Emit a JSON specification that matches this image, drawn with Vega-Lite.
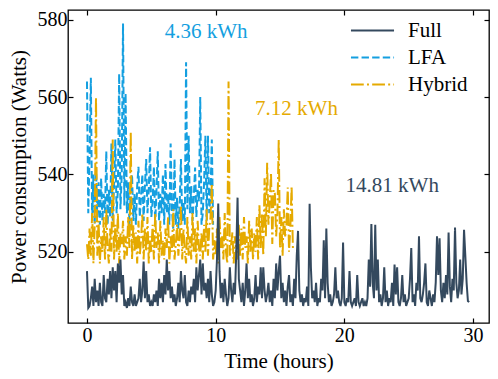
{
"$schema": "https://vega.github.io/schema/vega-lite/v6.json",
"width": 421, "height": 313,
"autosize": "none",
"padding": {"left": 68, "top": 10, "right": 9, "bottom": 56},
"background": "white",
"config": {
  "font": "Times New Roman",
  "view": {"stroke": "black", "strokeWidth": 1.3},
  "axis": {"grid": false, "labelFont": "Times New Roman", "labelFontSize": 20, "labelColor": "black", "titleFont": "Times New Roman", "titleFontSize": 21, "titleFontWeight": "normal", "titleColor": "black", "tickColor": "black", "tickSize": -5, "tickWidth": 1.2, "domain": false, "labelPadding": 6},
  "legend": {"orient": "none", "legendX": 294, "legendY": 10, "title": null, "symbolType": "M-4,0H4", "symbolSize": 116, "symbolStrokeWidth": 2, "labelFont": "Times New Roman", "labelFontSize": 21, "labelColor": "black", "labelOffset": 25, "rowPadding": 5, "padding": 0}
},
"datasets": {
"lfa": [
{"t":0,"w":564},{"t":0.1,"w":530},{"t":0.2,"w":545},{"t":0.3,"w":565},{"t":0.4,"w":528},{"t":0.5,"w":540},{"t":0.6,"w":527},{"t":0.7,"w":542},{"t":0.8,"w":529},{"t":0.9,"w":538},
{"t":1,"w":527},{"t":1.1,"w":539},{"t":1.2,"w":528},{"t":1.3,"w":535},{"t":1.4,"w":530},{"t":1.5,"w":546},{"t":1.6,"w":527},{"t":1.7,"w":536},{"t":1.8,"w":529},{"t":1.9,"w":548},
{"t":2,"w":528},{"t":2.1,"w":537},{"t":2.2,"w":549},{"t":2.3,"w":530},{"t":2.4,"w":536},{"t":2.5,"w":566},{"t":2.6,"w":531},{"t":2.7,"w":540},{"t":2.8,"w":579},{"t":2.9,"w":532},
{"t":3,"w":561},{"t":3.1,"w":530},{"t":3.2,"w":538},{"t":3.3,"w":527},{"t":3.4,"w":536},{"t":3.5,"w":540},{"t":3.6,"w":528},{"t":3.7,"w":535},{"t":3.8,"w":527},{"t":3.9,"w":537},
{"t":4,"w":542},{"t":4.1,"w":529},{"t":4.2,"w":534},{"t":4.3,"w":540},{"t":4.4,"w":528},{"t":4.5,"w":537},{"t":4.6,"w":544},{"t":4.7,"w":530},{"t":4.8,"w":536},{"t":4.9,"w":547},
{"t":5,"w":529},{"t":5.1,"w":533},{"t":5.2,"w":542},{"t":5.3,"w":527},{"t":5.4,"w":536},{"t":5.5,"w":546},{"t":5.6,"w":528},{"t":5.7,"w":535},{"t":5.8,"w":530},{"t":5.9,"w":540},
{"t":6,"w":527},{"t":6.1,"w":542.7},{"t":6.2,"w":530},{"t":6.3,"w":535},{"t":6.4,"w":527},{"t":6.5,"w":548},{"t":6.6,"w":531},{"t":6.7,"w":526},{"t":6.8,"w":544},{"t":6.9,"w":527},
{"t":7,"w":534},{"t":7.1,"w":526},{"t":7.2,"w":532},{"t":7.3,"w":544},{"t":7.4,"w":528},{"t":7.5,"w":533},{"t":7.6,"w":527},{"t":7.7,"w":569},{"t":7.8,"w":531},{"t":7.9,"w":550},
{"t":8,"w":530},{"t":8.1,"w":537},{"t":8.2,"w":528},{"t":8.3,"w":534},{"t":8.4,"w":541.8},{"t":8.5,"w":529},{"t":8.6,"w":536},{"t":8.7,"w":533},{"t":8.8,"w":560},{"t":8.9,"w":527},
{"t":9,"w":530},{"t":9.1,"w":538},{"t":9.2,"w":550},{"t":9.3,"w":528},{"t":9.4,"w":550},{"t":9.5,"w":530},{"t":9.6,"w":535},{"t":9.7,"w":549},{"t":9.8,"w":527}
],
"hybrid": [
{"t":0,"w":522},{"t":0.1,"w":518},{"t":0.2,"w":526},{"t":0.3,"w":519},{"t":0.4,"w":530},{"t":0.5,"w":517},{"t":0.6,"w":527},{"t":0.7,"w":560},{"t":0.8,"w":519},{"t":0.9,"w":528},
{"t":1,"w":517},{"t":1.1,"w":524},{"t":1.2,"w":520},{"t":1.3,"w":529},{"t":1.4,"w":518},{"t":1.5,"w":531},{"t":1.6,"w":521},{"t":1.7,"w":517},{"t":1.8,"w":526},{"t":1.9,"w":520},
{"t":2,"w":549},{"t":2.1,"w":518},{"t":2.2,"w":527},{"t":2.3,"w":520},{"t":2.4,"w":530},{"t":2.5,"w":517},{"t":2.6,"w":525},{"t":2.7,"w":522},{"t":2.8,"w":528},{"t":2.9,"w":518},
{"t":3,"w":524},{"t":3.1,"w":519},{"t":3.2,"w":529},{"t":3.3,"w":521},{"t":3.4,"w":551},{"t":3.5,"w":518},{"t":3.6,"w":527},{"t":3.7,"w":520},{"t":3.8,"w":525},{"t":3.9,"w":517},
{"t":4,"w":528},{"t":4.1,"w":519},{"t":4.2,"w":523},{"t":4.3,"w":530},{"t":4.4,"w":518},{"t":4.5,"w":526},{"t":4.6,"w":520},{"t":4.7,"w":529},{"t":4.8,"w":517},{"t":4.9,"w":524},
{"t":5,"w":520},{"t":5.1,"w":527},{"t":5.2,"w":518},{"t":5.3,"w":530},{"t":5.4,"w":521},{"t":5.5,"w":525},{"t":5.6,"w":517},{"t":5.7,"w":528},{"t":5.8,"w":519},{"t":5.9,"w":523},
{"t":6,"w":518},{"t":6.1,"w":526},{"t":6.2,"w":521},{"t":6.3,"w":529},{"t":6.4,"w":517},{"t":6.5,"w":524},{"t":6.6,"w":520},{"t":6.7,"w":531},{"t":6.8,"w":518},{"t":6.9,"w":522},
{"t":7,"w":527},{"t":7.1,"w":519},{"t":7.2,"w":524},{"t":7.3,"w":532},{"t":7.4,"w":518},{"t":7.5,"w":526},{"t":7.6,"w":520},{"t":7.7,"w":517},{"t":7.8,"w":529},{"t":7.9,"w":519},
{"t":8,"w":524},{"t":8.1,"w":518},{"t":8.2,"w":530},{"t":8.3,"w":520},{"t":8.4,"w":526},{"t":8.5,"w":517},{"t":8.6,"w":528},{"t":8.7,"w":521},{"t":8.8,"w":519},{"t":8.9,"w":525},
{"t":9,"w":518},{"t":9.1,"w":527},{"t":9.2,"w":520},{"t":9.3,"w":531},{"t":9.4,"w":519},{"t":9.5,"w":526},{"t":9.6,"w":529},{"t":9.7,"w":537.6},{"t":9.8,"w":518},{"t":9.9,"w":523},
{"t":10,"w":519},{"t":10.1,"w":526},{"t":10.2,"w":517},{"t":10.3,"w":529},{"t":10.4,"w":521},{"t":10.5,"w":524},{"t":10.6,"w":518},{"t":10.7,"w":530},{"t":10.8,"w":520},{"t":10.9,"w":517},
{"t":11,"w":564},{"t":11.1,"w":519},{"t":11.2,"w":522},{"t":11.3,"w":525},{"t":11.4,"w":517},{"t":11.5,"w":524},{"t":11.6,"w":520},{"t":11.7,"w":518},{"t":11.8,"w":527},{"t":11.9,"w":519},
{"t":12,"w":526},{"t":12.1,"w":518},{"t":12.2,"w":529},{"t":12.3,"w":521},{"t":12.4,"w":524},{"t":12.5,"w":517},{"t":12.6,"w":528},{"t":12.7,"w":520},{"t":12.8,"w":526},{"t":12.9,"w":518},
{"t":13,"w":525},{"t":13.1,"w":520},{"t":13.2,"w":529},{"t":13.3,"w":518},{"t":13.4,"w":532},{"t":13.5,"w":521},{"t":13.6,"w":530},{"t":13.7,"w":519},{"t":13.8,"w":539},{"t":13.9,"w":524},
{"t":14,"w":543},{"t":14.1,"w":527},{"t":14.2,"w":533},{"t":14.3,"w":540.5},{"t":14.4,"w":522},{"t":14.5,"w":536},{"t":14.6,"w":535},{"t":14.7,"w":524},{"t":14.8,"w":530},{"t":14.9,"w":549},
{"t":15,"w":521},{"t":15.1,"w":529},{"t":15.2,"w":519},{"t":15.3,"w":531},{"t":15.4,"w":524},{"t":15.5,"w":527},{"t":15.6,"w":536.6},{"t":15.7,"w":520},{"t":15.8,"w":526},{"t":15.9,"w":537},
{"t":16,"w":521}
],
"full": [
{"t":0,"w":515},{"t":0.1,"w":505.5},{"t":0.2,"w":506},{"t":0.3,"w":508},{"t":0.4,"w":511},{"t":0.5,"w":506},{"t":0.6,"w":513},{"t":0.7,"w":507},{"t":0.8,"w":510},{"t":0.9,"w":506},
{"t":1,"w":512},{"t":1.1,"w":507},{"t":1.2,"w":506},{"t":1.3,"w":514},{"t":1.4,"w":508},{"t":1.5,"w":507},{"t":1.6,"w":513},{"t":1.7,"w":509},{"t":1.8,"w":515},{"t":1.9,"w":508},
{"t":2,"w":516},{"t":2.1,"w":510},{"t":2.2,"w":515},{"t":2.3,"w":507},{"t":2.4,"w":517},{"t":2.5,"w":512},{"t":2.6,"w":518},{"t":2.7,"w":509},{"t":2.8,"w":514},{"t":2.9,"w":506},
{"t":3,"w":507},{"t":3.1,"w":505.5},{"t":3.2,"w":508},{"t":3.3,"w":506},{"t":3.4,"w":511},{"t":3.5,"w":507},{"t":3.6,"w":506},{"t":3.7,"w":509},{"t":3.8,"w":506},{"t":3.9,"w":507},
{"t":4,"w":508},{"t":4.1,"w":513},{"t":4.2,"w":507},{"t":4.3,"w":510},{"t":4.4,"w":517.5},{"t":4.5,"w":508},{"t":4.6,"w":515},{"t":4.7,"w":507},{"t":4.8,"w":509},{"t":4.9,"w":506},
{"t":5,"w":507},{"t":5.1,"w":506},{"t":5.2,"w":509},{"t":5.3,"w":507},{"t":5.4,"w":510},{"t":5.5,"w":506},{"t":5.6,"w":513},{"t":5.7,"w":508},{"t":5.8,"w":512},{"t":5.9,"w":507},
{"t":6,"w":514},{"t":6.1,"w":509},{"t":6.2,"w":518},{"t":6.3,"w":510},{"t":6.4,"w":515},{"t":6.5,"w":508},{"t":6.6,"w":511},{"t":6.7,"w":507},{"t":6.8,"w":509},{"t":6.9,"w":506},
{"t":7,"w":508},{"t":7.1,"w":512},{"t":7.2,"w":507},{"t":7.3,"w":515},{"t":7.4,"w":510},{"t":7.5,"w":508},{"t":7.6,"w":514},{"t":7.7,"w":507},{"t":7.8,"w":506},{"t":7.9,"w":510},
{"t":8,"w":507},{"t":8.1,"w":511},{"t":8.2,"w":509},{"t":8.3,"w":513},{"t":8.4,"w":507},{"t":8.5,"w":516},{"t":8.6,"w":510},{"t":8.7,"w":514},{"t":8.8,"w":518},{"t":8.9,"w":509},
{"t":9,"w":517},{"t":9.1,"w":510},{"t":9.2,"w":512},{"t":9.3,"w":508},{"t":9.4,"w":513},{"t":9.5,"w":507},{"t":9.6,"w":515},{"t":9.7,"w":509},{"t":9.8,"w":506},{"t":9.9,"w":507},
{"t":10,"w":510},{"t":10.1,"w":518},{"t":10.2,"w":532.5},{"t":10.3,"w":515},{"t":10.4,"w":508},{"t":10.5,"w":512},{"t":10.6,"w":507},{"t":10.7,"w":513},{"t":10.8,"w":509},{"t":10.9,"w":506},
{"t":11,"w":508},{"t":11.1,"w":516},{"t":11.2,"w":510},{"t":11.3,"w":507},{"t":11.4,"w":512},{"t":11.5,"w":509},{"t":11.6,"w":520},{"t":11.7,"w":534},{"t":11.8,"w":513},{"t":11.9,"w":510},
{"t":12,"w":507},{"t":12.1,"w":512},{"t":12.2,"w":506},{"t":12.3,"w":510},{"t":12.4,"w":517},{"t":12.5,"w":508},{"t":12.6,"w":513},{"t":12.7,"w":507},{"t":12.8,"w":509},{"t":12.9,"w":506},
{"t":13,"w":508},{"t":13.1,"w":514},{"t":13.2,"w":507},{"t":13.3,"w":511},{"t":13.4,"w":509},{"t":13.5,"w":516},{"t":13.6,"w":508},{"t":13.7,"w":516},{"t":13.8,"w":510},{"t":13.9,"w":507},
{"t":14,"w":509},{"t":14.1,"w":512},{"t":14.2,"w":507},{"t":14.3,"w":510},{"t":14.4,"w":506},{"t":14.5,"w":513},{"t":14.6,"w":508},{"t":14.7,"w":517},{"t":14.8,"w":510},{"t":14.9,"w":515},
{"t":15,"w":519},{"t":15.1,"w":508},{"t":15.2,"w":512},{"t":15.3,"w":507},{"t":15.4,"w":510},{"t":15.5,"w":506},{"t":15.6,"w":511},{"t":15.7,"w":514},{"t":15.8,"w":507},{"t":15.9,"w":509},
{"t":16,"w":506},{"t":16.1,"w":513},{"t":16.2,"w":508},{"t":16.3,"w":519},{"t":16.4,"w":525.4},{"t":16.5,"w":510},{"t":16.6,"w":507},{"t":16.7,"w":509},{"t":16.8,"w":506},{"t":16.9,"w":508},
{"t":17,"w":507},{"t":17.1,"w":511},{"t":17.2,"w":506},{"t":17.3,"w":532.4},{"t":17.4,"w":516},{"t":17.5,"w":508},{"t":17.6,"w":510},{"t":17.7,"w":507},{"t":17.8,"w":512},{"t":17.9,"w":506},
{"t":18,"w":508},{"t":18.1,"w":507},{"t":18.2,"w":513},{"t":18.3,"w":510},{"t":18.4,"w":523},{"t":18.5,"w":508},{"t":18.6,"w":526},{"t":18.7,"w":512},{"t":18.8,"w":507},{"t":18.9,"w":509},
{"t":19,"w":506},{"t":19.1,"w":507},{"t":19.2,"w":509},{"t":19.3,"w":516},{"t":19.4,"w":508},{"t":19.5,"w":510},{"t":19.6,"w":507},{"t":19.7,"w":506},{"t":19.8,"w":508},{"t":19.9,"w":522.4},
{"t":20,"w":507},{"t":20.1,"w":506},{"t":20.2,"w":508},{"t":20.3,"w":507},{"t":20.4,"w":515},{"t":20.5,"w":507},{"t":20.6,"w":506},{"t":20.7,"w":507},{"t":20.8,"w":508},{"t":20.9,"w":506},
{"t":21,"w":514},{"t":21.1,"w":507},{"t":21.2,"w":506},{"t":21.3,"w":507},{"t":21.4,"w":508},{"t":21.5,"w":506},{"t":21.6,"w":507},{"t":21.7,"w":506},{"t":21.8,"w":508},{"t":21.9,"w":518},
{"t":22,"w":511},{"t":22.1,"w":527.2},{"t":22.2,"w":512},{"t":22.3,"w":508},{"t":22.4,"w":527},{"t":22.5,"w":510},{"t":22.6,"w":518},{"t":22.7,"w":507},{"t":22.8,"w":509},{"t":22.9,"w":506},
{"t":23,"w":508},{"t":23.1,"w":516},{"t":23.2,"w":507},{"t":23.3,"w":510},{"t":23.4,"w":506},{"t":23.5,"w":508},{"t":23.6,"w":507},{"t":23.7,"w":512},{"t":23.8,"w":506},{"t":23.9,"w":516.7},
{"t":24,"w":509},{"t":24.1,"w":516},{"t":24.2,"w":507},{"t":24.3,"w":506},{"t":24.4,"w":508},{"t":24.5,"w":514},{"t":24.6,"w":507},{"t":24.7,"w":509},{"t":24.8,"w":506},{"t":24.9,"w":507},
{"t":25,"w":508},{"t":25.1,"w":513},{"t":25.2,"w":521},{"t":25.3,"w":507},{"t":25.4,"w":509},{"t":25.5,"w":506},{"t":25.6,"w":512},{"t":25.7,"w":510},{"t":25.8,"w":524},{"t":25.9,"w":508},
{"t":26,"w":507},{"t":26.1,"w":509},{"t":26.2,"w":512},{"t":26.3,"w":517},{"t":26.4,"w":507},{"t":26.5,"w":506},{"t":26.6,"w":510},{"t":26.7,"w":508},{"t":26.8,"w":506},{"t":26.9,"w":509},
{"t":27,"w":507},{"t":27.1,"w":512},{"t":27.2,"w":524},{"t":27.3,"w":514},{"t":27.4,"w":523.5},{"t":27.5,"w":510},{"t":27.6,"w":507},{"t":27.7,"w":512},{"t":27.8,"w":508},{"t":27.9,"w":514},
{"t":28,"w":509},{"t":28.1,"w":525},{"t":28.2,"w":511},{"t":28.3,"w":507},{"t":28.4,"w":513},{"t":28.5,"w":510},{"t":28.6,"w":526.3},{"t":28.7,"w":512},{"t":28.8,"w":508},{"t":28.9,"w":510},
{"t":29,"w":518},{"t":29.1,"w":509},{"t":29.2,"w":513},{"t":29.3,"w":525.7},{"t":29.4,"w":519},{"t":29.5,"w":512},{"t":29.6,"w":507.3},{"t":29.7,"w":507}
]
},
"layer": [
{
  "data": {"name": "lfa"},
  "mark": {"type": "line", "strokeWidth": 2},
  "encoding": {
    "x": {"field": "t", "type": "quantitative", "scale": {"domain": [-1.476, 31.24], "nice": false, "zero": false}, "axis": null},
    "y": {"field": "w", "type": "quantitative", "scale": {"domain": [501.6, 582.5], "nice": false, "zero": false}, "axis": null},
    "color": {"datum": "LFA", "type": "nominal", "scale": {"domain": ["Full", "LFA", "Hybrid"], "range": ["#34495e", "#149fe0", "#e5aa00"]}},
    "strokeDash": {"datum": "LFA", "type": "nominal", "scale": {"domain": ["Full", "LFA", "Hybrid"], "range": [[1, 0], [7.4, 3.2], [12.8, 3.2, 2, 3.2]]}}
  }
},
{
  "data": {"name": "hybrid"},
  "mark": {"type": "line", "strokeWidth": 2},
  "encoding": {
    "x": {"field": "t", "type": "quantitative", "axis": null},
    "y": {"field": "w", "type": "quantitative", "axis": null},
    "color": {"datum": "Hybrid", "type": "nominal"},
    "strokeDash": {"datum": "Hybrid", "type": "nominal"}
  }
},
{
  "data": {"name": "full"},
  "mark": {"type": "line", "strokeWidth": 2},
  "encoding": {
    "x": {"field": "t", "type": "quantitative", "axis": {"values": [0, 10, 20, 30], "title": "Time (hours)", "titlePadding": 5, "labelPadding": 7}},
    "y": {"field": "w", "type": "quantitative", "axis": {"values": [520, 540, 560, 580], "title": "Power consumption (Watts)", "titlePadding": 8}},
    "color": {"datum": "Full", "type": "nominal"},
    "strokeDash": {"datum": "Full", "type": "nominal"}
  }
},
{
  "data": {"values": [{"t": 9.26, "w": 576.9, "label": "4.36 kWh"}]},
  "mark": {"type": "text", "font": "Times New Roman", "fontSize": 21, "align": "center", "baseline": "middle", "color": "#149fe0"},
  "encoding": {
    "x": {"field": "t", "type": "quantitative", "axis": {"orient": "top", "values": [0, 10, 20, 30], "labels": false, "title": null}},
    "y": {"field": "w", "type": "quantitative", "axis": {"orient": "right", "values": [520, 540, 560, 580], "labels": false, "title": null}},
    "text": {"field": "label"}
  }
},
{
  "data": {"values": [{"t": 16.28, "w": 556.9, "label": "7.12 kWh"}]},
  "mark": {"type": "text", "font": "Times New Roman", "fontSize": 21, "align": "center", "baseline": "middle", "color": "#e5aa00"},
  "encoding": {
    "x": {"field": "t", "type": "quantitative", "axis": null},
    "y": {"field": "w", "type": "quantitative", "axis": null},
    "text": {"field": "label"}
  }
},
{
  "data": {"values": [{"t": 23.72, "w": 536.9, "label": "14.81 kWh"}]},
  "mark": {"type": "text", "font": "Times New Roman", "fontSize": 21, "align": "center", "baseline": "middle", "color": "#34495e"},
  "encoding": {
    "x": {"field": "t", "type": "quantitative", "axis": null},
    "y": {"field": "w", "type": "quantitative", "axis": null},
    "text": {"field": "label"}
  }
}
],
"resolve": {"axis": {"x": "independent", "y": "independent"}}
}
